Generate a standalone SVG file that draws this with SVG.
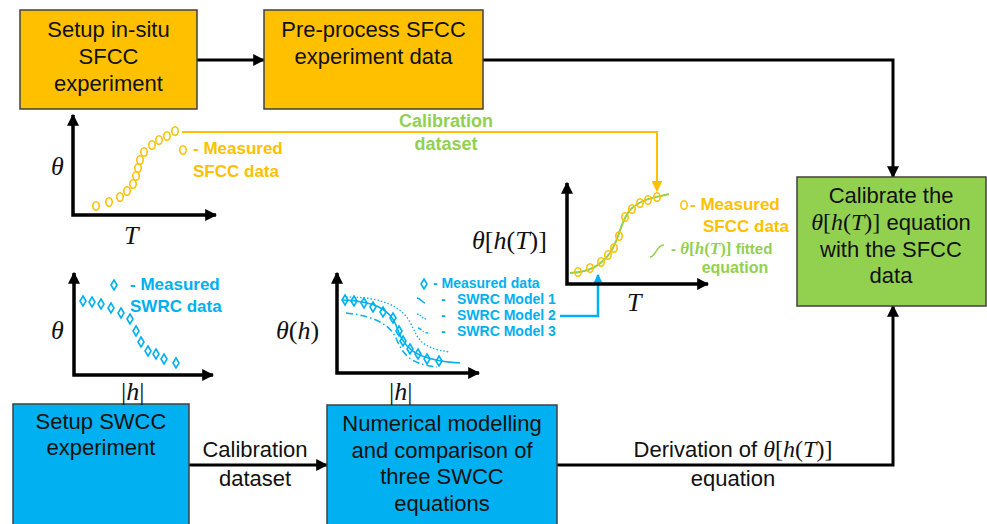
<svg xmlns="http://www.w3.org/2000/svg" width="987" height="524" viewBox="0 0 987 524">
  <style>
    .box-o { fill: #FFC000; stroke: #404040; stroke-width: 1.5; }
    .box-b { fill: #00B0F0; stroke: #404040; stroke-width: 1.5; }
    .box-g { fill: #92D050; stroke: #404040; stroke-width: 1.5; }
    .lbl { font-family: "Liberation Sans", Arial, sans-serif; font-size: 22px; fill: #111; text-anchor: middle; }
    .math { font-family: "Liberation Serif", "Times New Roman", serif; font-size: 24px; }
    .it { font-style: italic; }
    .conn { fill: none; stroke: #000; stroke-width: 3; }
    .axis { fill: none; stroke: #000; stroke-width: 3.5; }
    .leg { font-family: "Liberation Sans", Arial, sans-serif; font-weight: bold; }
    .orange { fill: #FFC000; }
    .blue { fill: #00B0F0; }
    .green { fill: #92D050; }
    .pt-o { fill: none; stroke: #FFC000; stroke-width: 1.6; }
    .pt-b { fill: none; stroke: #00B0F0; stroke-width: 1.6; }
    .axlbl { font-family: "Liberation Serif", "Times New Roman", serif; font-style: italic; font-size: 26px; fill: #111; }
  </style>
  <defs>
    <marker id="ah" viewBox="0 0 10 10" refX="9" refY="5" markerUnits="userSpaceOnUse" markerWidth="12" markerHeight="12" orient="auto-start-reverse">
      <path d="M0,0 L10,5 L0,10 z" fill="#000"/>
    </marker>
    <marker id="ah-o" viewBox="0 0 10 10" refX="9" refY="5" markerUnits="userSpaceOnUse" markerWidth="11" markerHeight="11" orient="auto">
      <path d="M0,0 L10,5 L0,10 z" fill="#FFC000"/>
    </marker>
    <marker id="ah-b" viewBox="0 0 10 10" refX="9" refY="5" markerUnits="userSpaceOnUse" markerWidth="11" markerHeight="11" orient="auto">
      <path d="M0,0 L10,5 L0,10 z" fill="#00B0F0"/>
    </marker>
    <ellipse id="circ" cx="0" cy="0" rx="3.2" ry="4.2" class="pt-o"/>
    <path id="dia" d="M0,-5 L3,0 L0,5 L-3,0 z" class="pt-b"/>
  </defs>

  <!-- connectors -->
  <g id="connectors">
    <path class="conn" d="M197,60 H264" marker-end="url(#ah)"/>
    <path class="conn" d="M483,60 H893 V177" marker-end="url(#ah)"/>
    <path class="conn" d="M557,465 H893 V306" marker-end="url(#ah)"/>
    <path class="conn" d="M189,465 H327" marker-end="url(#ah)"/>
    <path fill="none" stroke="#FFC000" stroke-width="2" d="M182,132 H657 V191" marker-end="url(#ah-o)"/>
    <path fill="none" stroke="#00B0F0" stroke-width="2.5" d="M560,316 H598 V275" marker-end="url(#ah-b)"/>
  </g>

  <!-- process boxes -->
  <g id="setup-sfcc">
    <rect class="box-o" x="20" y="10" width="177" height="99"/>
    <text class="lbl" x="108.5" y="37">Setup in-situ</text>
    <text class="lbl" x="108.5" y="64">SFCC</text>
    <text class="lbl" x="108.5" y="91">experiment</text>
  </g>
  <g id="preprocess-sfcc">
    <rect class="box-o" x="264" y="10" width="219" height="99"/>
    <text class="lbl" x="373.5" y="37">Pre-process SFCC</text>
    <text class="lbl" x="373.5" y="64">experiment data</text>
  </g>
  <g id="calibrate">
    <rect class="box-g" x="797" y="177" width="189" height="129"/>
    <text class="lbl" x="891" y="203">Calibrate the</text>
    <text class="lbl" x="891" y="230"><tspan class="math it">θ</tspan><tspan class="math">[</tspan><tspan class="math it">h</tspan><tspan class="math">(</tspan><tspan class="math it">T</tspan><tspan class="math">)]</tspan> equation</text>
    <text class="lbl" x="891" y="257">with the SFCC</text>
    <text class="lbl" x="891" y="283">data</text>
  </g>
  <g id="setup-swcc">
    <rect class="box-b" x="13" y="404" width="176" height="124"/>
    <text class="lbl" x="101" y="429">Setup SWCC</text>
    <text class="lbl" x="101" y="455">experiment</text>
  </g>
  <g id="numerical">
    <rect class="box-b" x="327" y="405" width="230" height="124"/>
    <text class="lbl" x="442" y="431">Numerical modelling</text>
    <text class="lbl" x="442" y="458">and comparison of</text>
    <text class="lbl" x="442" y="484">three SWCC</text>
    <text class="lbl" x="442" y="511">equations</text>
  </g>

  <!-- connector labels -->
  <g id="conn-labels">
    <text class="lbl" x="255" y="457">Calibration</text>
    <text class="lbl" x="255" y="486">dataset</text>
    <text class="lbl" x="733" y="457">Derivation of <tspan class="math it">θ</tspan><tspan class="math">[</tspan><tspan class="math it">h</tspan><tspan class="math">(</tspan><tspan class="math it">T</tspan><tspan class="math">)]</tspan></text>
    <text class="lbl" x="733" y="486">equation</text>
    <text class="leg green" x="446" y="127" font-size="18" text-anchor="middle">Calibration</text>
    <text class="leg green" x="446" y="150" font-size="18" text-anchor="middle">dataset</text>
  </g>

  <!-- plot: measured SFCC -->
  <g id="plot-sfcc">
    <path class="axis" d="M73,115 V215 H216" marker-start="url(#ah)" marker-end="url(#ah)"/>
    <text class="axlbl" x="51" y="175">θ</text>
    <text class="axlbl" x="124" y="244">T</text>
    <use href="#circ" x="96" y="206"/>
    <use href="#circ" x="109" y="202"/>
    <use href="#circ" x="120" y="197"/>
    <use href="#circ" x="127" y="191"/>
    <use href="#circ" x="133" y="184"/>
    <use href="#circ" x="136" y="176"/>
    <use href="#circ" x="138" y="168"/>
    <use href="#circ" x="140" y="160"/>
    <use href="#circ" x="144" y="152"/>
    <use href="#circ" x="152" y="145"/>
    <use href="#circ" x="159" y="140"/>
    <use href="#circ" x="167" y="136"/>
    <use href="#circ" x="175" y="131"/>
    <use href="#circ" x="183" y="150"/>
    <text class="leg orange" x="193" y="154" font-size="17">- Measured</text>
    <text class="leg orange" x="193" y="177" font-size="17">SFCC data</text>
  </g>

  <!-- plot: measured SWRC -->
  <g id="plot-swrc">
    <path class="axis" d="M74,273 V375 H213" marker-start="url(#ah)" marker-end="url(#ah)"/>
    <text class="axlbl" x="51" y="339">θ</text>
    <text class="axlbl" x="121" y="400"><tspan font-style="normal">|</tspan>h<tspan font-style="normal">|</tspan></text>
    <use href="#dia" x="83" y="301"/>
    <use href="#dia" x="92" y="302"/>
    <use href="#dia" x="101" y="304"/>
    <use href="#dia" x="111" y="308"/>
    <use href="#dia" x="121" y="313"/>
    <use href="#dia" x="130" y="319"/>
    <use href="#dia" x="136" y="331"/>
    <use href="#dia" x="141" y="342"/>
    <use href="#dia" x="148" y="351"/>
    <use href="#dia" x="156" y="354"/>
    <use href="#dia" x="164" y="359"/>
    <use href="#dia" x="176" y="363"/>
    <use href="#dia" x="114" y="285"/>
    <text class="leg blue" x="130" y="290" font-size="17">- Measured</text>
    <text class="leg blue" x="130" y="312" font-size="17">SWRC data</text>
  </g>

  <!-- plot: SWRC model comparison -->
  <g id="plot-models">
    <path class="axis" d="M337,273 V373 H479" marker-start="url(#ah)" marker-end="url(#ah)"/>
    <text class="axlbl" x="276" y="339">θ<tspan font-style="normal">(</tspan>h<tspan font-style="normal">)</tspan></text>
    <text class="axlbl" x="389" y="400"><tspan font-style="normal">|</tspan>h<tspan font-style="normal">|</tspan></text>
    <path fill="none" stroke="#00B0F0" stroke-width="1.3" stroke-dasharray="1.5,2" d="M346,297 C380,297 400,305 410,322 C418,337 418,348 450,352"/>
    <path fill="none" stroke="#00B0F0" stroke-width="1.5" stroke-dasharray="7,3,1.5,3" d="M346,313 C375,316 390,325 396,338 C402,352 408,364 437,367"/>
    <path fill="none" stroke="#00B0F0" stroke-width="1.5" d="M343,300 C375,301 390,310 396,325 C403,345 410,360 460,363"/>
    <use href="#dia" x="345" y="300"/>
    <use href="#dia" x="354" y="301"/>
    <use href="#dia" x="364" y="303"/>
    <use href="#dia" x="373" y="307"/>
    <use href="#dia" x="383" y="312"/>
    <use href="#dia" x="393" y="318"/>
    <use href="#dia" x="399" y="331"/>
    <use href="#dia" x="403" y="341"/>
    <use href="#dia" x="410" y="349"/>
    <use href="#dia" x="418" y="354"/>
    <use href="#dia" x="427" y="359"/>
    <use href="#dia" x="439" y="361"/>
    <use href="#dia" x="424" y="284"/>
    <text class="leg blue" x="433" y="288" font-size="14">- Measured data</text>
    <path fill="none" stroke="#00B0F0" stroke-width="1.5" d="M417,298 C421,298 422,303 425,303"/>
    <path fill="none" stroke="#00B0F0" stroke-width="1.3" stroke-dasharray="1.5,1.5" d="M417,314 C421,314 422,319 427,319"/>
    <path fill="none" stroke="#00B0F0" stroke-width="1.5" stroke-dasharray="4,2,1,2" d="M418,328 C421,328 422,333 428,333"/>
    <text class="leg blue" x="441" y="304" font-size="14">-</text>
    <text class="leg blue" x="441" y="320" font-size="14">-</text>
    <text class="leg blue" x="441" y="336" font-size="14">-</text>
    <text class="leg blue" x="457" y="304" font-size="14">SWRC Model 1</text>
    <text class="leg blue" x="457" y="320" font-size="14">SWRC Model 2</text>
    <text class="leg blue" x="457" y="336" font-size="14">SWRC Model 3</text>
  </g>

  <!-- plot: fitted theta[h(T)] -->
  <g id="plot-fitted">
    <path class="axis" d="M567,183 V284 H708" marker-start="url(#ah)" marker-end="url(#ah)"/>
    <text class="axlbl" x="472" y="249">θ<tspan font-style="normal">[</tspan>h<tspan font-style="normal">(</tspan>T<tspan font-style="normal">)]</tspan></text>
    <text class="axlbl" x="627" y="311">T</text>
    <path fill="none" stroke="#92D050" stroke-width="2" d="M570,273 C590,272 600,266 610,253 C620,238 620,222 630,210 C640,200 650,198 669,194"/>
    <use href="#circ" x="578" y="272"/>
    <use href="#circ" x="590" y="268"/>
    <use href="#circ" x="601" y="262"/>
    <use href="#circ" x="608" y="255"/>
    <use href="#circ" x="614" y="248"/>
    <use href="#circ" x="619" y="236"/>
    <use href="#circ" x="625" y="217"/>
    <use href="#circ" x="632" y="209"/>
    <use href="#circ" x="640" y="203"/>
    <use href="#circ" x="648" y="200"/>
    <use href="#circ" x="657" y="197"/>
    <use href="#circ" x="684" y="205"/>
    <text class="leg orange" x="690" y="210" font-size="17">- Measured</text>
    <text class="leg orange" x="703" y="232" font-size="17">SFCC data</text>
    <path fill="none" stroke="#92D050" stroke-width="1.5" d="M650,257 C656,257 656,245 664,245"/>
    <text class="leg green" x="671" y="254" font-size="15">- <tspan font-family="Liberation Serif, serif" font-style="italic" font-size="17">θ</tspan><tspan font-family="Liberation Serif, serif" font-size="17">[</tspan><tspan font-family="Liberation Serif, serif" font-style="italic" font-size="17">h</tspan><tspan font-family="Liberation Serif, serif" font-size="17">(</tspan><tspan font-family="Liberation Serif, serif" font-style="italic" font-size="17">T</tspan><tspan font-family="Liberation Serif, serif" font-size="17">)]</tspan> fitted</text>
    <text class="leg green" x="735" y="273" font-size="16" text-anchor="middle">equation</text>
  </g>
</svg>
